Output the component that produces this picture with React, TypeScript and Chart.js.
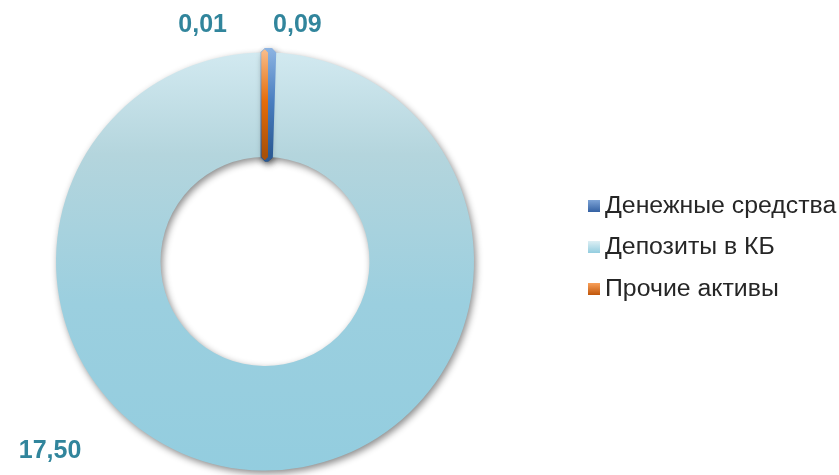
import React, { useEffect, useRef } from "react";
import { Chart, registerables } from "chart.js";

Chart.register(...registerables);

const categories = ["Денежные средства", "Депозиты в КБ", "Прочие активы"];
const values = [0.09, 17.5, 0.01];
const valueLabels = ["0,09", "17,50", "0,01"];

const LABEL_COLOR = "#31859C";

function gradFor(ctx: CanvasRenderingContext2D, y0: number, y1: number, stops: [number, string][]) {
  const g = ctx.createLinearGradient(0, y0, 0, y1);
  stops.forEach(([o, c]) => g.addColorStop(o, c));
  return g;
}

const sliceStops: [number, string][][] = [
  [[0, "#8DB4E2"], [0.5, "#4A7EC0"], [1, "#2B5A94"]],
  [[0, "#D3EAF1"], [0.25, "#B4D5DD"], [0.6, "#9BCFDF"], [1, "#93CDDF"]],
  [[0, "#FAC090"], [0.5, "#E46C0A"], [1, "#A8500A"]],
];
const sliceEnds = [0.25, 1, 0.25];
const legendStops: [number, string][][] = [
  [[0, "#7DA3D6"], [1, "#3461A3"]],
  [[0, "#DDEFF4"], [1, "#93CDDF"]],
  [[0, "#F9A05A"], [1, "#C0560A"]],
];

const shadowPlugin = {
  id: "ringShadow",
  beforeDatasetsDraw(chart: any) {
    const ctx = chart.ctx;
    ctx.save();
    ctx.shadowColor = "rgba(0,0,0,0.45)";
    ctx.shadowBlur = 7;
    ctx.shadowOffsetX = 2;
    ctx.shadowOffsetY = 3;
  },
  afterDatasetsDraw(chart: any) {
    const ctx = chart.ctx;
    ctx.restore();
    const meta = chart.getDatasetMeta(0);
    // redraw thin slices on top so their edges stay visible
    [0, 2].forEach((i) => meta.data[i].draw(ctx));
  },
};

const labelOffsets = [
  { dx: 29, dy: -27 },
  { dx: -212, dy: -19 },
  { dx: -62, dy: -27 },
];

const labelPlugin = {
  id: "valueLabels",
  afterDraw(chart: any) {
    const ctx = chart.ctx;
    const meta = chart.getDatasetMeta(0);
    ctx.save();
    ctx.font = "bold 25px 'Liberation Sans', Arial, sans-serif";
    ctx.fillStyle = LABEL_COLOR;
    ctx.textAlign = "center";
    ctx.textBaseline = "middle";
    meta.data.forEach((arc: any, i: number) => {
      const p = arc.getProps(["x", "y", "startAngle", "endAngle", "outerRadius"], true);
      const mid = (p.startAngle + p.endAngle) / 2;
      const ax = p.x + Math.cos(mid) * p.outerRadius;
      const ay = p.y + Math.sin(mid) * p.outerRadius;
      ctx.fillText(valueLabels[i], ax + labelOffsets[i].dx, ay + labelOffsets[i].dy);
    });
    ctx.restore();
  },
};

const legendPlugin = {
  id: "sideLegend",
  afterDraw(chart: any) {
    const ctx = chart.ctx;
    ctx.save();
    const x0 = 588;
    const rowY = [206, 247, 289];
    const box = 12;
    const sx = 1.08;
    ctx.font = "23px 'Liberation Sans', Arial, sans-serif";
    ctx.textBaseline = "middle";
    ctx.textAlign = "left";
    categories.forEach((c, i) => {
      const y = rowY[i];
      ctx.fillStyle = gradFor(ctx, y - box / 2, y + box / 2, legendStops[i]);
      ctx.fillRect(x0, y - box / 2, box, box);
      ctx.fillStyle = "#262626";
      ctx.save();
      ctx.translate(x0 + 17, y + 1);
      ctx.scale(sx, 1);
      ctx.fillText(c, 0, 0);
      ctx.restore();
    });
    ctx.restore();
  },
};

export default function App() {
  const ref = useRef<HTMLCanvasElement | null>(null);
  useEffect(() => {
    if (!ref.current) return;
    const sliceColor = (c: any) => {
      const area = c.chart.chartArea;
      const i = c.dataIndex ?? 0;
      if (!area) return sliceStops[i][1][1];
      const h = area.bottom - area.top;
      return gradFor(c.chart.ctx, area.top, area.top + h * sliceEnds[i], sliceStops[i]);
    };
    const chart = new Chart(ref.current, {
      type: "doughnut",
      data: {
        labels: categories,
        datasets: [
          {
            data: values,
            backgroundColor: sliceColor,
            borderColor: sliceColor,
            borderWidth: [9, 0, 6],
            borderAlign: "center",
          } as any,
        ],
      },
      options: {
        responsive: false,
        animation: false,
        cutout: "50%",
        rotation: 0,
        layout: { padding: { left: 50, right: 359, top: 48, bottom: -3 } },
        plugins: {
          legend: { display: false },
          tooltip: { enabled: false },
        },
        events: [],
      },
      plugins: [shadowPlugin, labelPlugin, legendPlugin],
    });
    return () => chart.destroy();
  }, []);
  return (
    <div style={{ position: "fixed", left: 0, top: 0, width: 839, height: 475, background: "#fff" }}>
      <canvas ref={ref} width={839} height={475} />
    </div>
  );
}
